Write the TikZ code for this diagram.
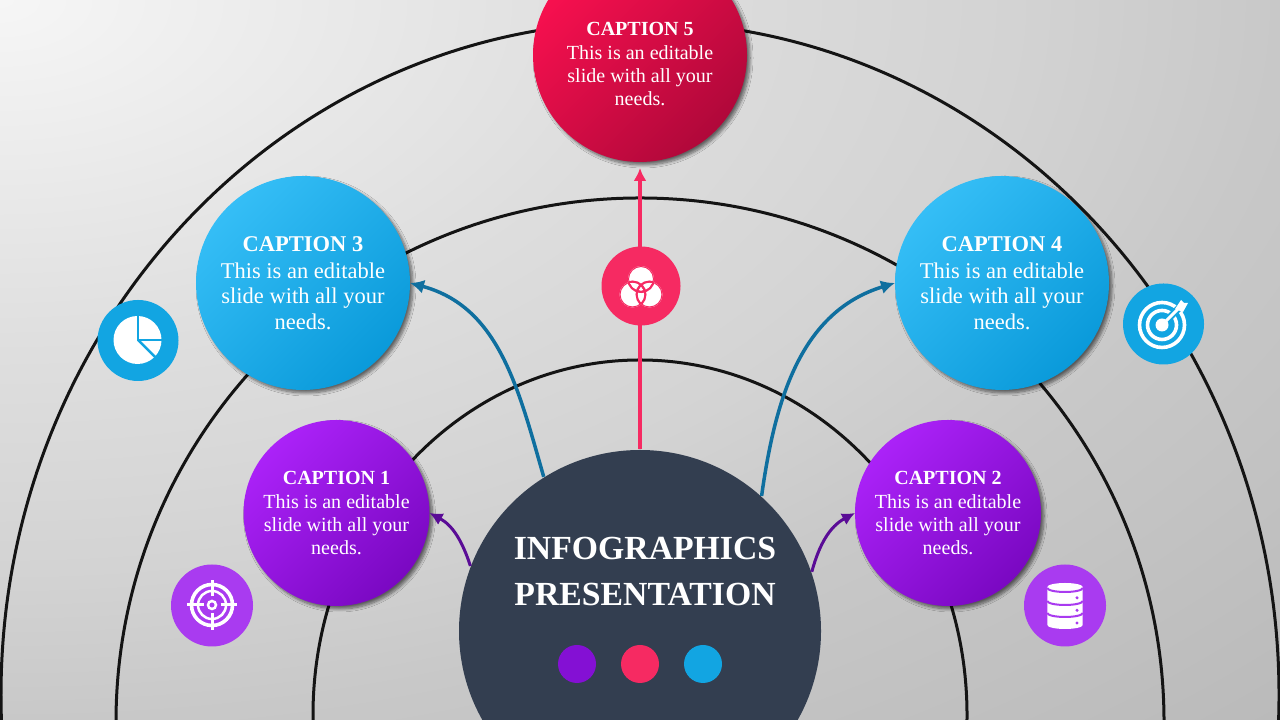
\documentclass[tikz,border=0pt]{standalone}
\usepackage{fontspec}
\setmainfont{Liberation Serif}
\usetikzlibrary{shadows.blur,arrows.meta}
\definecolor{hubcol}{HTML}{333E50}
\definecolor{pinkcol}{HTML}{F62A62}
\definecolor{skycol}{HTML}{12A5E2}
\definecolor{violetcol}{HTML}{8410D4}
\definecolor{lilaccol}{HTML}{A93BF0}
\definecolor{tealcol}{HTML}{0F6F9F}
\definecolor{plumcol}{HTML}{5A0C96}
\definecolor{bgA}{HTML}{F6F6F6}
\definecolor{bgB}{HTML}{DEDEDE}
\definecolor{bgC}{HTML}{D3D3D3}
\definecolor{bgD}{HTML}{C8C8C8}
\definecolor{bgE}{HTML}{BABABA}
\definecolor{skyA}{HTML}{35BEF6}
\definecolor{skyB}{HTML}{0A9ADA}
\definecolor{violetA}{HTML}{AB22F8}
\definecolor{violetB}{HTML}{7A08C2}
\definecolor{redA}{HTML}{F8104F}
\definecolor{redB}{HTML}{B0083A}
\pgfdeclareradialshading{bgglow}{\pgfpoint{0bp}{0bp}}{color(0bp)=(bgA); color(8.7bp)=(bgB); color(14bp)=(bgC); color(17.7bp)=(bgD); color(25bp)=(bgE); color(50bp)=(bgE)}
\tikzset{
  ringline/.style={line width=0.03cm,black!92},
  capcircle/.style={circle,inner sep=0pt,outer sep=0pt,text=white,align=center,
    blur shadow={shadow xshift=0.03cm,shadow yshift=-0.03cm,shadow blur radius=0.03cm,shadow opacity=55,shadow blur steps=8}},
  capbig/.style={capcircle,minimum size=2.14cm,font=\fontsize{6.4}{7.25}\selectfont},
  capsmall/.style={capcircle,minimum size=1.86cm,font=\fontsize{5.7}{6.5}\selectfont},
  skyfill/.style={top color=skyA,bottom color=skyB,shading angle=45},
  violetfill/.style={top color=violetA,bottom color=violetB,shading angle=45},
  redfill/.style={top color=redA,bottom color=redB,shading angle=45},
  iconbg/.style={circle,inner sep=0pt,minimum size=0.81cm},
  flatdot/.style={circle,inner sep=0pt,minimum size=0.38cm},
  linkblue/.style={-{Latex[length=0.14cm,width=0.14cm]},line width=0.035cm,tealcol},
  linkpurple/.style={-{Latex[length=0.13cm,width=0.13cm]},line width=0.03cm,plumcol},
  linkpink/.style={-{Latex[length=0.13cm,width=0.13cm]},line width=0.04cm,pinkcol},
}
\begin{document}
\begin{tikzpicture}
  \useasboundingbox (0,0) rectangle (12.8,7.2);
  \clip (0,0) rectangle (12.8,7.2);
  \shade[shading=bgglow] (0,7.2) ellipse (18.1cm and 10.18cm);

  % rings
  \draw[ringline] (6.4,0.25) ellipse (6.39cm and 6.73cm);
  \draw[ringline] (6.4,-0.02) ellipse (5.24cm and 5.24cm);
  \draw[ringline] (6.4,0.05) ellipse (3.27cm and 3.55cm);

  % circles
  \node[flatdot,fill=hubcol,minimum size=3.62cm] (hub) at (6.4,0.89) {};
  \node[capsmall,violetfill] (cap1) at (3.365,2.07) {\textbf{CAPTION 1}\\[0.3pt]This is an editable\\slide with all your\\needs.};
  \node[capsmall,violetfill] (cap2) at (9.48,2.07) {\textbf{CAPTION 2}\\[0.3pt]This is an editable\\slide with all your\\needs.};
  \node[capbig,skyfill] (cap3) at (3.03,4.37) {\textbf{CAPTION 3}\\[0.4pt]This is an editable\\slide with all your\\needs.};
  \node[capbig,skyfill] (cap4) at (10.02,4.37) {\textbf{CAPTION 4}\\[0.4pt]This is an editable\\slide with all your\\needs.};
  \node[capbig,redfill] (cap5) at (6.4,6.65) {};
  \node[text=white,align=center,font=\fontsize{5.7}{6.5}\selectfont] (cap5text) at (6.4,6.56) {\textbf{CAPTION 5}\\[0.3pt]This is an editable\\slide with all your\\needs.};

  % arrows
  \draw[linkpurple] (hub.159) to[out=108,in=-28] (cap1.east);
  \draw[linkpurple] (hub.19) to[out=75,in=208] (cap2.west);
  \draw[linkblue] (hub.122) to[out=106,in=-15] (cap3.east);
  \draw[linkblue] (hub.48) to[out=82,in=197] (cap4.west);
  \draw[linkpink,shorten >=0.06cm] (hub.north) -- (cap5.south);

  % title and dots
  \node[text=white,align=center,font=\fontsize{9.6}{12.9}\selectfont\bfseries] (title) at (6.45,1.485) {INFOGRAPHICS\\PRESENTATION};
  \node[flatdot,fill=violetcol] (dot1) at (5.77,0.56) {};
  \node[flatdot,fill=pinkcol] (dot2) at (6.40,0.56) {};
  \node[flatdot,fill=skycol] (dot3) at (7.03,0.56) {};

  % pie icon
  \node[iconbg,fill=skycol] (iconpie) at (1.38,3.795) {};
  \fill[white] (1.375,3.80) circle (0.24);
  \draw[skycol,line width=0.025cm] (1.38,4.06) -- (1.38,3.80) -- (1.64,3.80);
  \draw[skycol,line width=0.025cm] (1.38,3.80) -- (1.56,3.62);

  % target icon
  \node[iconbg,fill=skycol] (icontarget) at (11.635,3.96) {};
  \draw[white,line width=0.036cm] (11.62,3.95) circle (0.225);
  \draw[white,line width=0.036cm] (11.62,3.95) circle (0.145);
  \draw[skycol,line width=0.07cm] (11.62,3.95) -- (11.80,4.13);
  \fill[white] (11.62,3.95) circle (0.065);
  \draw[white,line width=0.03cm] (11.62,3.95) -- (11.80,4.13);
  \fill[white] (11.75,4.11) -- (11.81,4.20) -- (11.84,4.17) -- (11.88,4.17) -- (11.83,4.08) -- cycle;

  % venn icon
  \node[iconbg,fill=pinkcol,minimum size=0.79cm] (iconvenn) at (6.41,4.34) {};
  \foreach \cx/\cy in {6.41/4.41,6.325/4.255,6.495/4.255}
    \fill[white] (\cx,\cy) circle (0.13);
  \foreach \cx/\cy in {6.41/4.41,6.325/4.255,6.495/4.255}
  {
    \begin{scope}
      \clip (\cx,\cy) circle (0.13);
      \foreach \dx/\dy in {6.41/4.41,6.325/4.255,6.495/4.255}
        \draw[pinkcol,line width=0.02cm] (\dx,\dy) circle (0.13);
    \end{scope}
  }

  % crosshair icon
  \node[iconbg,fill=lilaccol,minimum size=0.82cm] (iconcross) at (2.12,1.145) {};
  \draw[white,line width=0.036cm] (2.12,1.15) circle (0.205);
  \draw[white,line width=0.025cm] (2.12,1.15) circle (0.14);
  \draw[white,line width=0.025cm] (2.12,1.15) circle (0.04);
  \foreach \ang in {0,90,180,270}
    \draw[white,line width=0.03cm] (2.12,1.15) ++(\ang:0.085) -- ++(\ang:0.165);

  % database icon
  \node[iconbg,fill=lilaccol,minimum size=0.82cm] (icondb) at (10.65,1.145) {};
  \fill[white] (10.473,1.33) arc[start angle=180,end angle=0,x radius=0.177,y radius=0.04] -- (10.827,0.95) arc[start angle=0,end angle=-180,x radius=0.177,y radius=0.04] -- cycle;
  \foreach \yy in {1.32,1.19,1.07}
    \draw[lilaccol,line width=0.02cm] (10.473,\yy) arc[start angle=180,end angle=360,x radius=0.177,y radius=0.04];
  \foreach \yy in {1.222,1.097,0.97}
    \fill[lilaccol] (10.77,\yy) circle (0.017);
\end{tikzpicture}
\end{document}
